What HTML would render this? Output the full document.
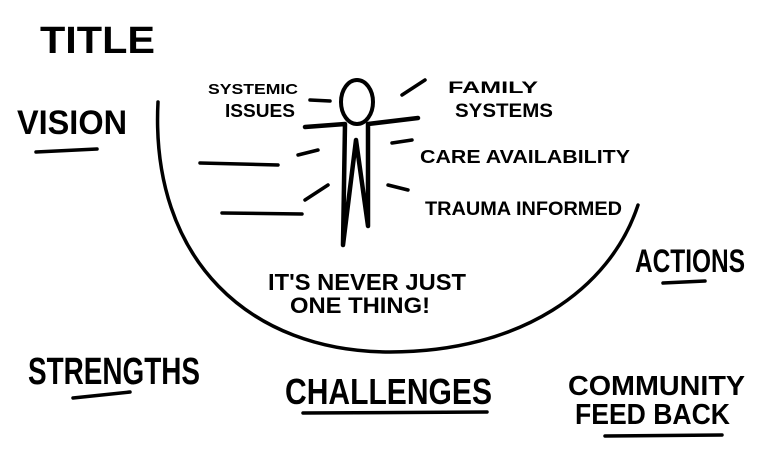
<!DOCTYPE html>
<html><head><meta charset="utf-8"><style>
html,body{margin:0;padding:0;background:#fff;width:768px;height:462px;overflow:hidden}
svg{display:block}
text{font-family:"Liberation Sans",sans-serif;font-weight:bold;fill:#000}
</style></head><body>
<svg width="768" height="462" viewBox="0 0 768 462" xmlns="http://www.w3.org/2000/svg">
<g fill="none" stroke="#000" stroke-linecap="round" stroke-linejoin="round">
<path d="M158,102 C150,260 250,352 390,352 C520,352 610,290 638,205" stroke-width="3.5"/>
<ellipse cx="357" cy="102" rx="16" ry="22" stroke-width="4"/>
<path d="M305,127 L345,124 L343,245 L356,140 L368,226 L368,124 L418,118" stroke-width="4.5"/>
<path d="M310,100 L330,101 M402,95 L425,80 M298,155 L318,150 M392,143 L412,140 M305,200 L328,185 M388,185 L408,190" stroke-width="3.5"/>
<path d="M200,163 L278,165 M222,213 L302,214" stroke-width="3.5"/>
<path d="M36,152 L97,149 M73,398 L130,392 M303,413 L487,412 M663,283 L705,281 M605,436 L722,435" stroke-width="3.5"/>
</g>
<text x="40" y="53" font-size="38" textLength="115" lengthAdjust="spacingAndGlyphs">TITLE</text>
<text x="17" y="134" font-size="34" textLength="110" lengthAdjust="spacingAndGlyphs">VISION</text>
<text x="28" y="384" font-size="38" textLength="172" lengthAdjust="spacingAndGlyphs">STRENGTHS</text>
<text x="285" y="404" font-size="36" textLength="207" lengthAdjust="spacingAndGlyphs">CHALLENGES</text>
<text x="635" y="272" font-size="32" textLength="110" lengthAdjust="spacingAndGlyphs">ACTIONS</text>
<text x="568" y="395" font-size="28" textLength="177" lengthAdjust="spacingAndGlyphs">COMMUNITY</text>
<text x="575" y="424" font-size="29" textLength="155" lengthAdjust="spacingAndGlyphs">FEED BACK</text>
<text x="208" y="94" font-size="15" textLength="90" lengthAdjust="spacingAndGlyphs">SYSTEMIC</text>
<text x="225" y="117" font-size="18" textLength="70" lengthAdjust="spacingAndGlyphs">ISSUES</text>
<text x="448" y="93" font-size="17" textLength="90" lengthAdjust="spacingAndGlyphs">FAMILY</text>
<text x="455" y="117" font-size="19" textLength="98" lengthAdjust="spacingAndGlyphs">SYSTEMS</text>
<text x="420" y="163" font-size="18" textLength="210" lengthAdjust="spacingAndGlyphs">CARE AVAILABILITY</text>
<text x="425" y="215" font-size="19" textLength="197" lengthAdjust="spacingAndGlyphs">TRAUMA INFORMED</text>
<text x="268" y="290" font-size="23" textLength="198" lengthAdjust="spacingAndGlyphs">IT'S NEVER JUST</text>
<text x="290" y="313" font-size="22" textLength="140" lengthAdjust="spacingAndGlyphs">ONE THING!</text>
</svg>
</body></html>
